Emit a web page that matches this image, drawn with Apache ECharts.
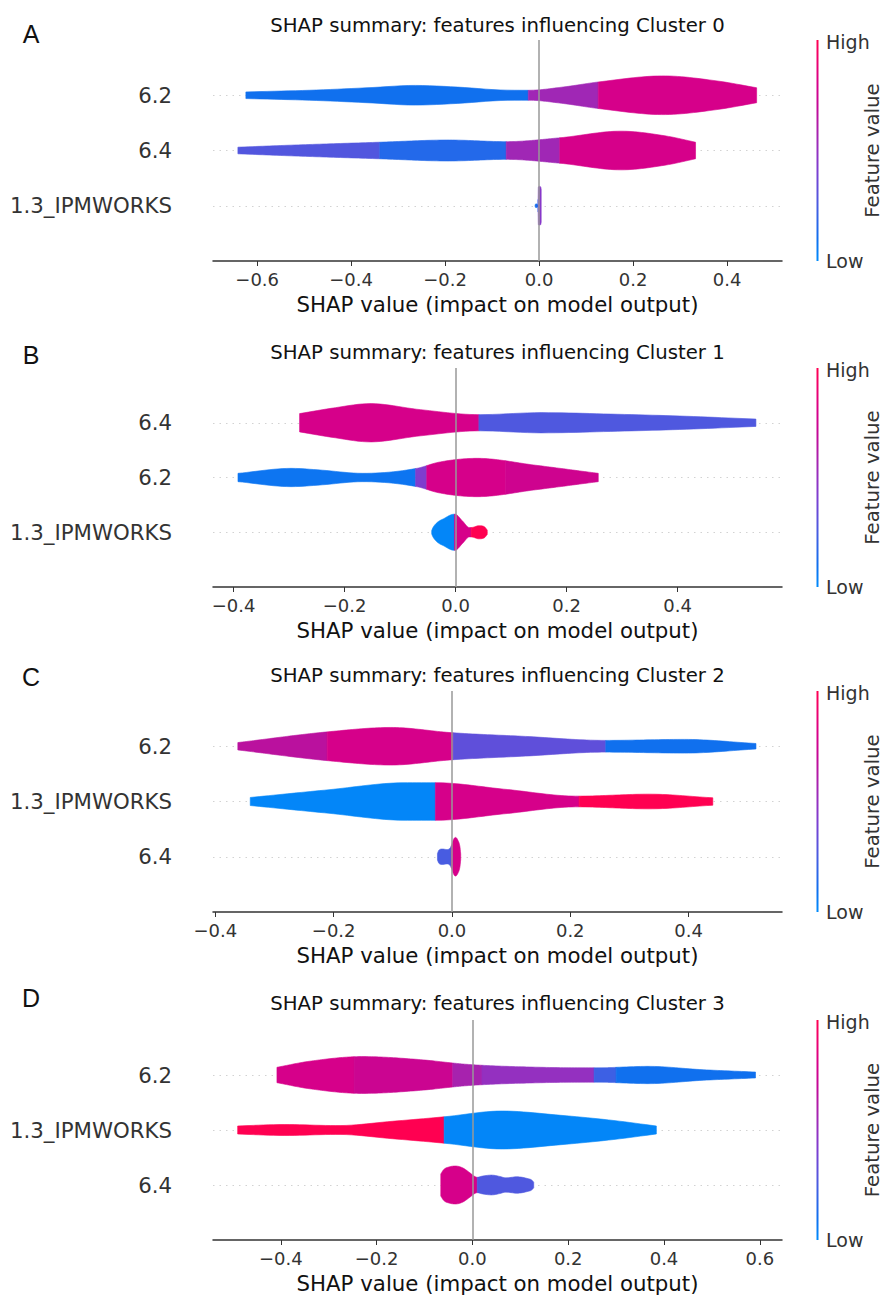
<!DOCTYPE html>
<html>
<head>
<meta charset="utf-8">
<script src="https://cdn.jsdelivr.net/npm/echarts@6/dist/echarts.min.js"></script>
<style>
html,body{margin:0;padding:0;background:#fff;}
#chart{width:884px;height:1297px;}
</style>
</head>
<body>
<div id="chart"></div>
<script>
// ---------------- DATA ----------------
const panelLetters = ['A', 'B', 'C', 'D'];
const panelTitles = [
  'SHAP summary: features influencing Cluster 0',
  'SHAP summary: features influencing Cluster 1',
  'SHAP summary: features influencing Cluster 2',
  'SHAP summary: features influencing Cluster 3'
];
// feature names per panel, from bottom row to top row
const featuresA = ['1.3_IPMWORKS', '6.4', '6.2'];
const featuresB = ['1.3_IPMWORKS', '6.2', '6.4'];
const featuresC = ['6.4', '1.3_IPMWORKS', '6.2'];
const featuresD = ['6.4', '1.3_IPMWORKS', '6.2'];
// x-axis ranges and tick labels
const xRangeA = [-0.694, 0.517];
const xRangeB = [-0.437, 0.588];
const xRangeC = [-0.404, 0.558];
const xRangeD = [-0.5415, 0.6463];
const ticksA = [-0.6, -0.4, -0.2, 0.0, 0.2, 0.4];
const ticksB = [-0.4, -0.2, 0.0, 0.2, 0.4];
const ticksC = [-0.4, -0.2, 0.0, 0.2, 0.4];
const ticksD = [-0.4, -0.2, 0.0, 0.2, 0.4, 0.6];

// Violins: x = SHAP value, w = density half-width (row units),
// cut = SHAP values where the mean feature value changes, fv = normalised feature value per piece
const vA_62 = { x: [-0.624, -0.477, -0.355, -0.266, -0.168, -0.086, -0.023, 0.052, 0.126, 0.264, 0.378, 0.463],
                w: [0.06, 0.094, 0.14, 0.178, 0.145, 0.097, 0.09, 0.15, 0.24, 0.35, 0.26, 0.136],
                cut: [-0.023, 0.126], fv: [0.1, 0.55, 0.8] };
const vA_64 = { x: [-0.641, -0.518, -0.339, -0.192, -0.07, 0.044, 0.174, 0.272, 0.333],
                w: [0.06, 0.10, 0.15, 0.19, 0.16, 0.23, 0.35, 0.26, 0.15],
                cut: [-0.339, -0.07, 0.044], fv: [0.28, 0.15, 0.55, 0.8] };
const vA_13 = { x: [-0.0085, -0.0075, -0.0064, -0.005, -0.0035, -0.0022, -0.0015, 0.001, 0.0035, 0.0045],
                w: [0.01, 0.03, 0.036, 0.03, 0.02, 0.05, 0.34, 0.35, 0.34, 0.3],
                cut: [-0.002], fv: [0.12, 0.45] };

const vB_64 = { x: [-0.281, -0.22, -0.154, -0.064, 0.042, 0.155, 0.284, 0.412, 0.541],
                w: [0.167, 0.27, 0.35, 0.24, 0.148, 0.185, 0.157, 0.12, 0.067],
                cut: [0.042], fv: [0.8, 0.27] };
const vB_62 = { x: [-0.392, -0.296, -0.243, -0.167, -0.07, -0.03, 0.039, 0.142, 0.257],
                w: [0.076, 0.167, 0.136, 0.076, 0.167, 0.28, 0.35, 0.227, 0.076],
                cut: [-0.072, -0.052, 0.09], fv: [0.08, 0.42, 0.8, 0.76] };
const vB_13 = { x: [-0.043, -0.041, -0.033, -0.021, -0.008, -0.001, 0.012, 0.025, 0.031, 0.042, 0.052, 0.057],
                w: [0.03, 0.08, 0.18, 0.25, 0.32, 0.33, 0.21, 0.085, 0.09, 0.12, 0.1, 0.04],
                cut: [-0.002, 0.028], fv: [0.02, 0.8, 1.0] };

const vC_62 = { x: [-0.362, -0.211, -0.103, 0.0, 0.121, 0.26, 0.393, 0.514],
                w: [0.067, 0.26, 0.34, 0.245, 0.18, 0.106, 0.124, 0.05],
                cut: [-0.211, 0.002, 0.26], fv: [0.66, 0.8, 0.32, 0.1] };
const vC_13 = { x: [-0.341, -0.211, -0.078, -0.028, 0.091, 0.212, 0.333, 0.441],
                w: [0.073, 0.21, 0.34, 0.34, 0.22, 0.097, 0.133, 0.067],
                cut: [-0.028, 0.215], fv: [0.02, 0.8, 1.0] };
const vC_64 = { x: [-0.0245, -0.022, -0.016, -0.008, -0.003, -0.001, 0.003, 0.006, 0.010, 0.0135, 0.0148],
                w: [0.06, 0.12, 0.14, 0.13, 0.16, 0.2, 0.32, 0.35, 0.3, 0.18, 0.05],
                cut: [-0.001], fv: [0.25, 0.8] };

const vD_62 = { x: [-0.408, -0.34, -0.229, -0.117, -0.005, 0.144, 0.256, 0.368, 0.479, 0.591],
                w: [0.14, 0.25, 0.335, 0.285, 0.19, 0.14, 0.13, 0.157, 0.097, 0.054],
                cut: [-0.247, -0.041, 0.02, 0.254, 0.30], fv: [0.8, 0.74, 0.58, 0.5, 0.22, 0.1] };
const vD_13 = { x: [-0.49, -0.393, -0.281, -0.169, -0.059, 0.062, 0.181, 0.293, 0.384],
                w: [0.073, 0.10, 0.08, 0.157, 0.24, 0.345, 0.27, 0.175, 0.073],
                cut: [-0.059], fv: [1.0, 0.02] };
const vD_64 = { x: [-0.066, -0.06, -0.048, -0.035, -0.02, -0.005, 0.004, 0.01, 0.02, 0.04, 0.055, 0.07, 0.082, 0.092, 0.104, 0.114, 0.124, 0.128],
                w: [0.2, 0.28, 0.33, 0.345, 0.31, 0.22, 0.16, 0.14, 0.16, 0.18, 0.16, 0.13, 0.14, 0.15, 0.14, 0.12, 0.09, 0.05],
                cut: [0.01], fv: [0.8, 0.27] };

// violins per panel, bottom row to top row
const violinsA = [vA_13, vA_64, vA_62];
const violinsB = [vB_13, vB_62, vB_64];
const violinsC = [vC_64, vC_13, vC_62];
const violinsD = [vD_64, vD_13, vD_62];

// ---------------- STYLE / LAYOUT ----------------
const FONT = 'DejaVu Sans';
const cmapStops = [
  [0.0, [0, 139, 251]], [0.1, [16, 112, 238]], [0.25, [72, 92, 225]], [0.4, [122, 64, 210]],
  [0.5, [148, 48, 192]], [0.6, [172, 30, 170]], [0.7, [195, 8, 150]], [0.8, [214, 0, 138]],
  [0.9, [236, 0, 112]], [1.0, [255, 0, 81]]
];
function cmap(v) {
  v = Math.max(0, Math.min(1, v));
  for (let i = 0; i < cmapStops.length - 1; i++) {
    const [a, ca] = cmapStops[i], [b, cb] = cmapStops[i + 1];
    if (v <= b) {
      const t = (v - a) / (b - a);
      const c = ca.map((x, k) => Math.round(x + (cb[k] - x) * t));
      return 'rgb(' + c.join(',') + ')';
    }
  }
  return 'rgb(255,0,81)';
}
// monotone cubic (Fritsch-Carlson) for drawing smooth outlines through the read points
function monotone(xs, ys) {
  const n = xs.length;
  const d = [], m = new Array(n);
  for (let i = 0; i < n - 1; i++) d.push((ys[i + 1] - ys[i]) / (xs[i + 1] - xs[i]));
  m[0] = d[0]; m[n - 1] = d[n - 2];
  for (let i = 1; i < n - 1; i++) m[i] = (d[i - 1] * d[i] <= 0) ? 0 : (d[i - 1] + d[i]) / 2;
  for (let i = 0; i < n - 1; i++) {
    if (d[i] === 0) { m[i] = 0; m[i + 1] = 0; continue; }
    const a = m[i] / d[i], b = m[i + 1] / d[i];
    const s = a * a + b * b;
    if (s > 9) { const t = 3 / Math.sqrt(s); m[i] = t * a * d[i]; m[i + 1] = t * b * d[i]; }
  }
  return function (x) {
    if (x <= xs[0]) return ys[0];
    if (x >= xs[n - 1]) return ys[n - 1];
    let i = 0; while (i < n - 2 && x > xs[i + 1]) i++;
    const h = xs[i + 1] - xs[i], t = (x - xs[i]) / h;
    const t2 = t * t, t3 = t2 * t;
    return (2 * t3 - 3 * t2 + 1) * ys[i] + (t3 - 2 * t2 + t) * h * m[i] +
           (-2 * t3 + 3 * t2) * ys[i + 1] + (t3 - t2) * h * m[i + 1];
  };
}
function makeRender(violins) {
  return function (params, api) {
    const v = violins[params.dataIndex];
    const row = api.value(1);
    const f = monotone(v.x, v.w);
    const bounds = [v.x[0]].concat(v.cut, [v.x[v.x.length - 1]]);
    const children = [];
    for (let s = 0; s < bounds.length - 1; s++) {
      const a = bounds[s], b = bounds[s + 1];
      const N = 40, top = [], bot = [];
      for (let k = 0; k <= N; k++) {
        const x = a + (b - a) * k / N;
        const h = Math.max(0, f(x));
        top.push(api.coord([x, row + h]));
        bot.push(api.coord([x, row - h]));
      }
      const col = cmap(v.fv[s]);
      children.push({ type: 'polygon', shape: { points: top.concat(bot.reverse()) },
                      style: { fill: col, stroke: col, lineWidth: 0.6 } });
    }
    return { type: 'group', children: children };
  };
}
function fmtTick(v) {
  const r = Math.round(v * 10) / 10;
  return (r < 0 ? '\u2212' : '') + Math.abs(r).toFixed(1);
}

const panelFeatures = [featuresA, featuresB, featuresC, featuresD];
const panelRanges = [xRangeA, xRangeB, xRangeC, xRangeD];
const panelTicks = [ticksA, ticksB, ticksC, ticksD];
const panelViolins = [violinsA, violinsB, violinsC, violinsD];
const gridTop = [40, 368, 691, 1020];
const gridH = [221, 219, 221, 220];
const titleY = [25, 352, 675, 1003];
const letterY = [34, 355, 677, 998];
const GL = 213, GW = 569;

const grid = [], xAxis = [], yAxis = [], series = [], graphic = [];
for (let p = 0; p < 4; p++) {
  grid.push({ left: GL, top: gridTop[p], width: GW, height: gridH[p] });
  const ticks = panelTicks[p];
  xAxis.push({
    type: 'value', gridIndex: p, min: panelRanges[p][0], max: panelRanges[p][1],
    axisLine: { show: true, onZero: false, lineStyle: { color: '#333', width: 1.5 } },
    axisTick: { show: true, customValues: ticks, length: 5, lineStyle: { color: '#333', width: 1 } },
    axisLabel: { customValues: ticks, formatter: fmtTick, fontSize: 18, color: '#333', margin: 9, fontFamily: FONT },
    splitLine: { show: false },
    name: 'SHAP value (impact on model output)', nameLocation: 'middle', nameGap: 33,
    nameTextStyle: { fontSize: 21.3, color: '#111', fontFamily: FONT }
  });
  const feats = panelFeatures[p];
  yAxis.push({
    type: 'value', gridIndex: p, min: -1, max: 3,
    axisLine: { show: false }, axisTick: { show: false }, splitLine: { show: false },
    axisLabel: { customValues: [0, 1, 2], formatter: v => feats[Math.round(v)] || '',
                 fontSize: 21.3, color: '#333', margin: 41, fontFamily: FONT }
  });
  series.push({
    type: 'line', xAxisIndex: p, yAxisIndex: p, data: [], z: 1, silent: true,
    markLine: { silent: true, z: 1, symbol: 'none', label: { show: false },
      lineStyle: { color: '#d2d2d2', type: [1.5, 5], width: 1 },
      data: [{ yAxis: 0 }, { yAxis: 1 }, { yAxis: 2 }] }
  });
  const viol = panelViolins[p];
  series.push({
    type: 'custom', xAxisIndex: p, yAxisIndex: p, z: 3, clip: false, silent: true,
    renderItem: makeRender(viol),
    encode: { x: 0, y: 1 },
    data: viol.map((v, i) => [0, i])
  });
  series.push({
    type: 'line', xAxisIndex: p, yAxisIndex: p, data: [], z: 6, silent: true,
    markLine: { silent: true, z: 8, symbol: 'none', label: { show: false },
      lineStyle: { color: '#999', type: 'solid', width: 1.5 },
      data: [{ xAxis: 0 }] }
  });

  // titles, letters, colour bar
  graphic.push({ type: 'text', x: GL + GW / 2, y: titleY[p],
    style: { text: panelTitles[p], align: 'center', verticalAlign: 'middle',
             font: '19.7px "' + FONT + '"', fill: '#111' } });
  graphic.push({ type: 'text', x: 31, y: letterY[p],
    style: { text: panelLetters[p], align: 'center', verticalAlign: 'middle',
             font: '25px "Liberation Sans"', fill: '#111' } });
  const cbTop = gridTop[p], cbBot = gridTop[p] + gridH[p];
  const stops = [];
  for (let k = 0; k <= 20; k++) stops.push({ offset: k / 20, color: cmap(1 - k / 20) });
  graphic.push({ type: 'rect', shape: { x: 816.5, y: cbTop, width: 2, height: cbBot - cbTop },
    style: { fill: { type: 'linear', x: 0, y: 0, x2: 0, y2: 1, colorStops: stops } } });
  graphic.push({ type: 'text', x: 826, y: cbTop + 2,
    style: { text: 'High', align: 'left', verticalAlign: 'middle', font: '19px "' + FONT + '"', fill: '#333' } });
  graphic.push({ type: 'text', x: 826, y: cbBot,
    style: { text: 'Low', align: 'left', verticalAlign: 'middle', font: '19px "' + FONT + '"', fill: '#333' } });
  graphic.push({ type: 'text', x: 872, y: (cbTop + cbBot) / 2, rotation: Math.PI / 2,
    style: { text: 'Feature value', align: 'center', verticalAlign: 'middle', font: '19.7px "' + FONT + '"', fill: '#333' } });
}

const chart = echarts.init(document.getElementById('chart'), null, { renderer: 'svg', width: 884, height: 1297 });
chart.setOption({
  animation: false,
  backgroundColor: '#fff',
  grid: grid, xAxis: xAxis, yAxis: yAxis, series: series, graphic: graphic
});
</script>
</body>
</html>
